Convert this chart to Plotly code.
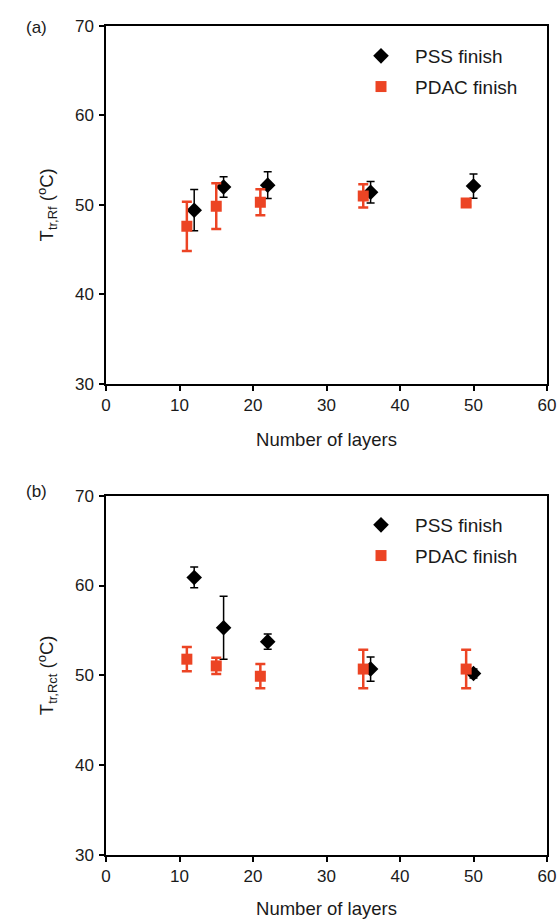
import plotly.graph_objects as go

# ---- data ----
x_pss = [12, 16, 22, 36, 50]
x_pdac = [11, 15, 21, 35, 49]

a_pss = [49.4, 52.0, 52.2, 51.4, 52.1]
a_pss_err = [2.3, 1.15, 1.5, 1.2, 1.35]
a_pdac = [47.6, 49.85, 50.3, 51.0, 50.2]
a_pdac_err = [2.75, 2.55, 1.45, 1.3, 0.3]

b_pss = [60.9, 55.3, 53.75, 50.7, 50.2]
b_pss_err = [1.15, 3.5, 0.85, 1.35, 0.5]
b_pdac = [51.8, 51.05, 49.9, 50.7, 50.7]
b_pdac_err = [1.35, 0.9, 1.35, 2.15, 2.15]

x_ticks = [0, 10, 20, 30, 40, 50, 60]
y_ticks = [30, 40, 50, 60, 70]

RED = "#EC4424"
BLACK = "#000000"
TXT = "#1a1a1a"
FONT = "Liberation Sans, Arial, sans-serif"

fig = go.Figure()


def add_panel(xref, yref, legend, pss, pss_err, pdac, pdac_err):
    fig.add_trace(go.Scatter(
        x=x_pss, y=pss, mode="markers", name="PSS finish",
        xaxis=xref, yaxis=yref, legend=legend, legendgroup=legend + "pss",
        marker=dict(symbol="diamond", size=12, color=BLACK),
        error_y=dict(type="data", array=pss_err, visible=True,
                     color=BLACK, thickness=1.5, width=4),
    ))
    fig.add_trace(go.Scatter(
        x=x_pdac, y=pdac, mode="markers", name="PDAC finish",
        xaxis=xref, yaxis=yref, legend=legend, legendgroup=legend + "pdac",
        marker=dict(symbol="square", size=11, color=RED),
        error_y=dict(type="data", array=pdac_err, visible=True,
                     color=RED, thickness=2.5, width=5),
    ))


add_panel("x", "y", "legend", a_pss, a_pss_err, a_pdac, a_pdac_err)
add_panel("x2", "y2", "legend2", b_pss, b_pss_err, b_pdac, b_pdac_err)

W, H = 558, 919
x_dom = [106 / W, 547 / W]
ya_dom = [1 - 384 / H, 1 - 25.7 / H]
yb_dom = [1 - 855 / H, 1 - 495.7 / H]

tickfont = dict(family=FONT, size=17, color=TXT)
titlefont = dict(family=FONT, size=18.5, color=TXT)
legfont = dict(family=FONT, size=19, color=TXT)

base_x = dict(range=[0, 60], tickvals=x_ticks, ticks="outside", ticklen=5,
              tickwidth=1.5, tickcolor=BLACK, showline=True, linecolor=BLACK,
              linewidth=1.5, mirror=True, showgrid=False, zeroline=False,
              tickfont=tickfont, automargin=False, domain=x_dom,
              title=dict(text="Number of layers", font=titlefont, standoff=19))
base_y = dict(range=[30, 70], tickvals=y_ticks, ticks="outside", ticklen=5,
              tickwidth=1.5, tickcolor=BLACK, showline=True, linecolor=BLACK,
              linewidth=1.5, mirror=True, showgrid=False, zeroline=False,
              tickfont=tickfont, automargin=False, ticklabelstandoff=2)

inner_x = dict(range=[0, 60], tickvals=x_ticks, ticks="inside", ticklen=5,
               tickwidth=1.5, tickcolor=BLACK, showline=False, showgrid=False,
               zeroline=False, showticklabels=False, automargin=False)
inner_y = dict(range=[30, 70], dtick=5, tick0=30, ticks="inside", ticklen=4,
               tickwidth=1.5, tickcolor=BLACK, showline=False, showgrid=False,
               zeroline=False, showticklabels=False, automargin=False)

fig.update_layout(
    width=W, height=H,
    margin=dict(l=0, r=0, t=0, b=0),
    paper_bgcolor="white", plot_bgcolor="white",
    font=dict(family=FONT, color=TXT),
    xaxis=dict(base_x, anchor="y"),
    yaxis=dict(base_y, anchor="x", domain=ya_dom,
               title=dict(text="T<sub>tr,Rf</sub> (<sup>o</sup>C)", font=titlefont, standoff=16)),
    xaxis2=dict(base_x, anchor="y2"),
    yaxis2=dict(base_y, anchor="x2", domain=yb_dom,
                title=dict(text="T<sub>tr,Rct</sub> (<sup>o</sup>C)", font=titlefont, standoff=16)),
    xaxis3=dict(inner_x, overlaying="x", anchor="y"),
    yaxis3=dict(inner_y, overlaying="y", anchor="x"),
    xaxis4=dict(inner_x, overlaying="x2", anchor="y2"),
    yaxis4=dict(inner_y, overlaying="y2", anchor="x2"),
    legend=dict(x=347 / W, y=1 - 37 / H, xanchor="left", yanchor="top",
                bgcolor="rgba(0,0,0,0)", itemwidth=58, tracegroupgap=3,
                font=legfont),
    legend2=dict(x=347 / W, y=1 - 506 / H, xanchor="left", yanchor="top",
                 bgcolor="rgba(0,0,0,0)", itemwidth=58, tracegroupgap=3,
                 font=legfont),
    showlegend=True,
    annotations=[
        dict(text="(a)", x=24 / W, y=1 - 16 / H, xref="paper", yref="paper",
             showarrow=False, font=dict(family=FONT, size=17, color=TXT)),
        dict(text="(b)", x=24 / W, y=1 - 492 / H, xref="paper", yref="paper",
             showarrow=False, font=dict(family=FONT, size=17, color=TXT)),
    ],
)

fig.write_html("out.html")
